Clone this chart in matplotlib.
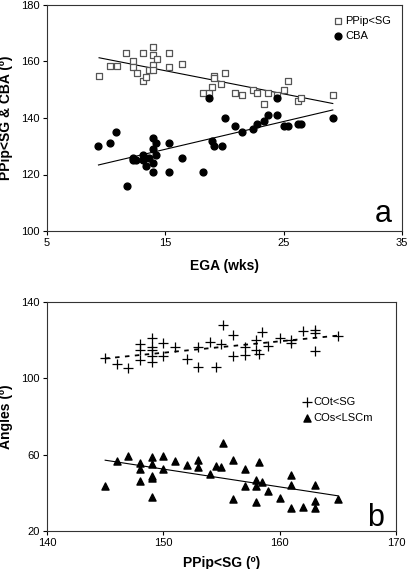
import numpy as np
import matplotlib
matplotlib.use("Agg")
import matplotlib.pyplot as plt

plt.rcParams['font.family'] = ['Liberation Sans', 'DejaVu Sans']

# ---- Panel a data ----
ega_sq = [9.4, 10.3, 10.9, 11.7, 12.25, 12.25, 12.6, 13.15, 13.15, 13.35, 13.6,
          13.95, 13.95, 13.95, 13.95, 14.3, 15.35, 15.35, 16.45, 18.15, 18.65,
          18.95, 19.15, 19.15, 19.7, 20.05, 20.85, 21.45, 22.45, 22.75, 23.35,
          23.7, 24.4, 25.05, 25.4, 26.25, 26.5, 29.15]
ppip = [155, 158.5, 158.3, 163, 160.3, 158.2, 156, 163, 153.2, 154.6, 157,
        165.2, 162.2, 158.8, 157.1, 161, 163, 158.2, 159.1, 149, 149,
        151, 155, 154, 152, 156.1, 149, 148, 150, 149, 145,
        149, 148, 150, 153, 146, 147, 148]

ega_c = [9.35, 10.3, 10.85, 11.75, 12.25, 12.25, 12.55, 13.15, 13.15, 13.35, 13.65,
         13.95, 13.95, 13.95, 13.95, 14.25, 14.25, 15.35, 15.35, 16.45, 18.15,
         18.65, 18.95, 19.15, 19.75, 20.05, 20.85, 21.45, 22.45, 22.75, 23.35,
         23.7, 24.45, 24.45, 25.05, 25.4, 26.25, 26.5, 29.15]
cba = [130, 131, 135, 116, 126, 125, 125, 127, 125, 123, 126,
       133, 129, 124, 121, 131, 127, 131, 121, 126, 121,
       147, 132, 130, 130, 140, 137, 135, 136, 138, 139,
       141, 147, 141, 137, 137, 138, 138, 140]

# ---- Panel b data ----
ppip_plus = [145.0, 146.0, 147.0, 148.0, 148.0, 148.0, 149.0, 149.0, 149.0, 149.0,
             149.0, 150.0, 150.0, 151.0, 152.0, 153.0, 153.0, 154.0, 154.5, 155.1,
             155.0, 156.0, 156.0, 157.0, 157.0, 158.5, 158.0, 158.0, 158.2, 159.0,
             160.0, 161.0, 161.0, 162.0, 163.0, 163.0, 163.0, 165.0]
cot = [110.8, 107.4, 105.3, 118.0, 114.9, 109.6, 121.0, 116.6, 114.9, 111.9,
       108.4, 118.4, 111.7, 116.6, 110.0, 116.6, 105.8, 118.9, 106.1, 128.0,
       118.0, 122.7, 111.7, 116.6, 112.2, 124.5, 120.1, 114.9, 112.6, 117.1,
       121.0, 120.1, 118.4, 124.8, 125.3, 124.0, 114.3, 122.4]

ppip_tri = [145.0, 146.0, 147.0, 148.0, 148.0, 148.0, 149.0, 149.0, 149.0, 149.0,
            149.0, 150.0, 150.0, 151.0, 152.0, 153.0, 153.0, 154.0, 154.5, 155.1,
            155.0, 156.0, 156.0, 157.0, 157.0, 158.2, 158.0, 158.0, 158.5, 158.0,
            159.0, 160.0, 161.0, 161.0, 161.0, 162.0, 163.0, 163.0, 163.0, 165.0]
cos_ = [43.7, 56.8, 59.3, 55.5, 52.3, 46.4, 58.6, 55.1, 48.8, 47.6,
        37.7, 59.3, 52.3, 56.8, 54.6, 57.2, 53.4, 49.9, 54.1, 66.0,
        53.4, 57.2, 36.6, 52.3, 43.6, 56.3, 46.7, 43.8, 45.5, 35.4,
        41.1, 37.5, 49.4, 44.1, 31.9, 32.4, 44.1, 35.7, 31.9, 36.6]


def fit_line(ax, x, y, **kw):
    x = np.asarray(x); y = np.asarray(y)
    m, b = np.polyfit(x, y, 1)
    xs = np.array([x.min(), x.max()])
    ax.plot(xs, m * xs + b, **kw)


fig = plt.figure(figsize=(4.07, 5.69), dpi=100)

tick_fs = 8
lab_fs = 10

# ---------- Panel a ----------
axa = fig.add_axes([47/407, 1-231/569, 355/407, 226/569])
axa.scatter(ega_sq, ppip, marker='s', s=24, facecolors='white',
            edgecolors='#555555', linewidths=0.9, zorder=3, label='PPip<SG')
axa.scatter(ega_c, cba, marker='o', s=24, color='black', zorder=3, label='CBA')
fit_line(axa, ega_sq, ppip, color='black', lw=0.8, zorder=2)
fit_line(axa, ega_c, cba, color='black', lw=0.8, zorder=2)
axa.set_xlim(5, 35)
axa.set_ylim(100, 180)
axa.set_xticks([5, 15, 25, 35])
axa.set_yticks([100, 120, 140, 160, 180])
axa.set_xlabel('EGA (wks)', fontsize=lab_fs, fontweight='bold', labelpad=8)
axa.set_ylabel('PPip<SG & CBA (º)', fontsize=lab_fs, fontweight='bold', labelpad=6)
axa.text(0.97, 0.01, 'a', transform=axa.transAxes, fontsize=22,
         ha='right', va='bottom')
axa.legend(loc='upper right', frameon=False, fontsize=8, handletextpad=0.1,
           borderaxespad=0.6, labelspacing=0.4, handlelength=1.0,
           scatterpoints=1)

# ---------- Panel b ----------
axb = fig.add_axes([47/407, 1-531/569, 349/407, 229/569])
axb.scatter(ppip_plus, cot, marker='+', s=45, color='black', linewidths=0.9,
            zorder=3, label='COt<SG')
axb.scatter(ppip_tri, cos_, marker='^', s=26, color='black', zorder=3,
            label='COs<LSCm')
fit_line(axb, ppip_plus, cot, color='black', lw=1.3, dashes=(2.5, 3), zorder=2)
fit_line(axb, ppip_tri, cos_, color='black', lw=0.8, zorder=2)
axb.set_xlim(140, 170)
axb.set_ylim(20, 140)
axb.set_xticks([140, 150, 160, 170])
axb.set_yticks([20, 60, 100, 140])
axb.set_xlabel('PPip<SG (º)', fontsize=lab_fs, fontweight='bold', labelpad=6)
axb.set_ylabel('Angles (º)', fontsize=lab_fs, fontweight='bold', labelpad=6)
axb.text(0.965, -0.01, 'b', transform=axb.transAxes, fontsize=22,
         ha='right', va='bottom')
axb.legend(loc='upper left', bbox_to_anchor=(0.7, 0.63), frameon=False,
           fontsize=8, handletextpad=0.1, labelspacing=0.6, handlelength=1.0,
           scatterpoints=1)

for ax in (axa, axb):
    ax.tick_params(direction='out', length=3, width=0.8, labelsize=tick_fs,
                   colors='black', pad=2)
    for sp in ax.spines.values():
        sp.set_linewidth(0.8)
        sp.set_color('#333333')

fig.savefig('out.png', dpi=100)
